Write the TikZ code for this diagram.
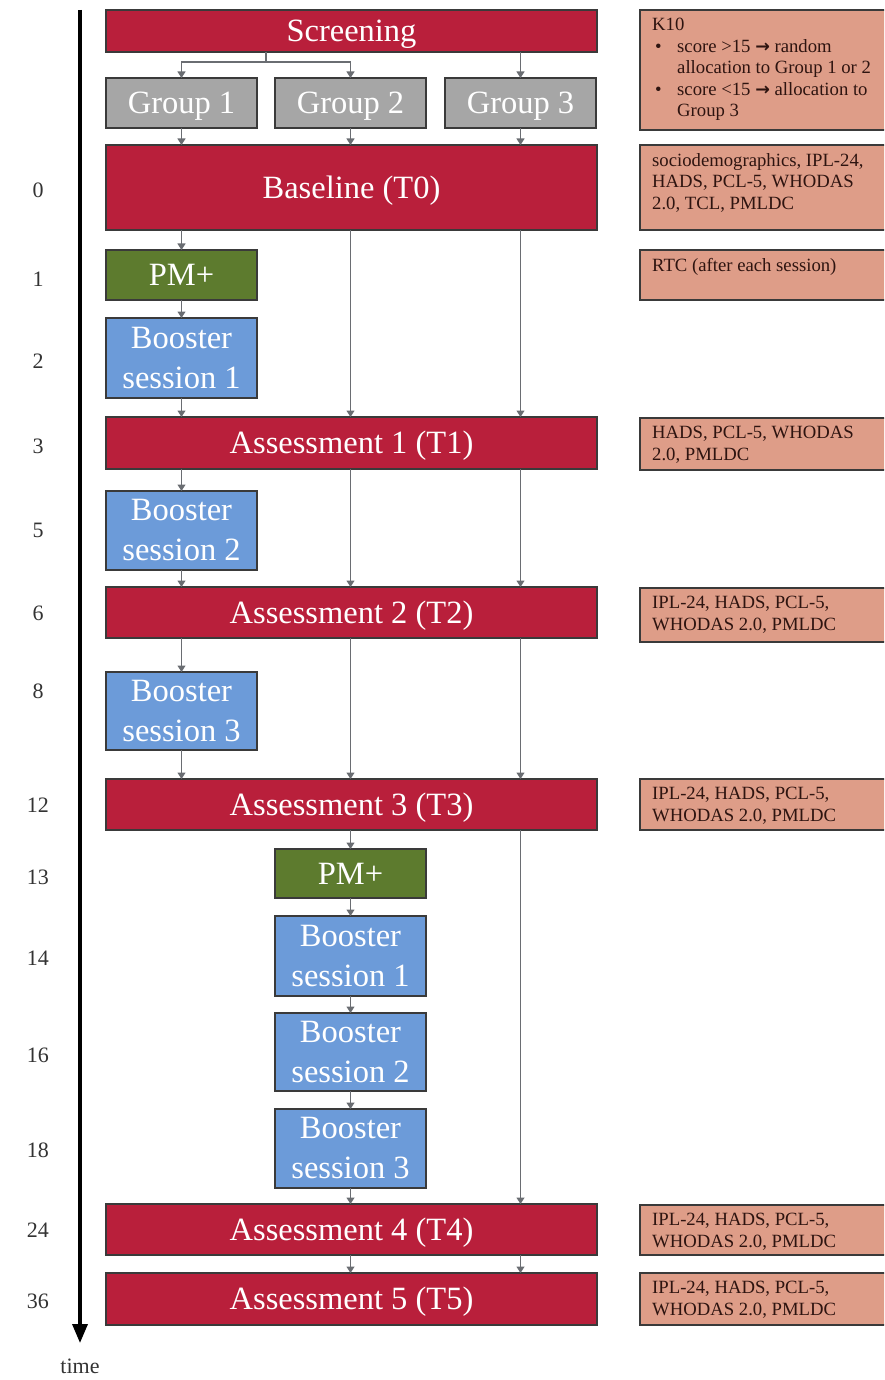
\documentclass[tikz,border=0pt]{standalone}
\usepackage{fontspec}
\setmainfont{Liberation Serif}
\newfontfamily\arrowfont{DejaVu Sans}
\usetikzlibrary{arrows.meta}

\definecolor{blockred}{HTML}{B91F3B}
\definecolor{groupgray}{HTML}{A6A6A6}
\definecolor{pmgreen}{HTML}{5D7B2E}
\definecolor{boostblue}{HTML}{6C9BD9}
\definecolor{notesalmon}{HTML}{DE9D88}
\definecolor{edgedark}{HTML}{3A3A3A}
\definecolor{connector}{HTML}{6A6D72}
\definecolor{notetextcol}{HTML}{2E1410}

\tikzset{
  blockbase/.style={draw=edgedark, line width=1.3pt, inner sep=0pt, outer sep=0pt,
    text=white, align=center, font=\fontsize{32.5}{40}\selectfont},
  oneline/.style={text height=22.5pt, text depth=1pt},
  redblock/.style={blockbase, oneline, fill=blockred},
  grayblock/.style={blockbase, oneline, fill=groupgray},
  greenblock/.style={blockbase, oneline, fill=pmgreen},
  blueblock/.style={blockbase, fill=boostblue},
  notebox/.style={draw=edgedark, line width=1.2pt, fill=notesalmon, inner sep=0pt,
    outer sep=0pt, anchor=north west, minimum width=260pt},
  notetext/.style={anchor=north west, inner sep=0pt, align=left, text=notetextcol,
    font=\fontsize{18.7}{21.5}\selectfont},
  conn/.style={draw=connector, line width=1.1pt},
  flow/.style={conn, -{Triangle[width=8pt,length=6.5pt]}},
  ticklabel/.style={font=\fontsize{22}{24}\selectfont, text=black!80},
  timeaxis/.style={line width=3.5pt, -{Triangle[width=15pt,length=19pt]}},
}

% box from (x1,y1) to (x2,y2), in pixel-like units
\newcommand\block[7]{%
  \node[#2, minimum width={(#5-#3)*1pt}, minimum height={(#6-#4)*1pt}]
    (#1) at ({(#3+#5)/2},{(#4+#6)/2}) {#7};}
% measurement note on the right: name, top, bottom, text
\newcommand\note[4]{%
  \node[notebox, minimum height={(#3-#2)*1pt}] (#1) at (640,#2) {};
  \node[notetext] (#1t) at ([xshift=12pt,yshift=-8pt]#1.north west) {#4};}
\newcommand\arr{{\arrowfont\bfseries\fontsize{17.5}{18}\selectfont →}}

\begin{document}
\begin{tikzpicture}[x=1pt,y=-1pt]
\useasboundingbox (0,0) rectangle (884,1380);
\clip (0,0) rectangle (884,1380);

% time axis
\coordinate (axtop) at (80,10);
\coordinate (axbot) at (80,1343);
\draw[timeaxis] (axtop) -- (axbot);
\node[ticklabel] (timelbl) at (80,1366) {time};

\foreach \lab/\yy [count=\i] in {0/190,1/279,2/361,3/446,5/530,6/613,8/691,12/805,
    13/877,14/958,16/1055,18/1150,24/1230,36/1301}
  \node[ticklabel] (tick\i) at (38,\yy) {\lab};

% main flow blocks
\block{scr}{redblock}{106}{10}{597}{52}{Screening}
\block{g1}{grayblock}{106}{78}{257}{128}{Group 1}
\block{g2}{grayblock}{275}{78}{426}{128}{Group 2}
\block{g3}{grayblock}{445}{78}{596}{128}{Group 3}
\block{base}{redblock}{106}{145}{597}{230}{Baseline (T0)}
\block{pmA}{greenblock}{106}{250}{257}{300}{PM+}
\block{bA1}{blueblock}{106}{318}{257}{398}{Booster\\session 1}
\block{a1}{redblock}{106}{417}{597}{469}{Assessment 1 (T1)}
\block{bA2}{blueblock}{106}{491}{257}{570}{Booster\\session 2}
\block{a2}{redblock}{106}{587}{597}{638}{Assessment 2 (T2)}
\block{bA3}{blueblock}{106}{672}{257}{750}{Booster\\session 3}
\block{a3}{redblock}{106}{779}{597}{830}{Assessment 3 (T3)}
\block{pmB}{greenblock}{275}{849}{426}{898}{PM+}
\block{bB1}{blueblock}{275}{916}{426}{996}{Booster\\session 1}
\block{bB2}{blueblock}{275}{1013}{426}{1091}{Booster\\session 2}
\block{bB3}{blueblock}{275}{1109}{426}{1188}{Booster\\session 3}
\block{a4}{redblock}{106}{1204}{597}{1255}{Assessment 4 (T4)}
\block{a5}{redblock}{106}{1273}{597}{1325}{Assessment 5 (T5)}

% measurement notes
\note{nK}{10}{130}{K10\\
  \hspace*{3pt}\makebox[22pt][l]{•}score >15 \arr{} random\\
  \hspace*{25pt}allocation to Group 1 or 2\\
  \hspace*{3pt}\makebox[22pt][l]{•}score <15 \arr{} allocation to\\
  \hspace*{25pt}Group 3}
\note{nB}{145}{230}{sociodemographics, IPL-24,\\HADS, PCL-5, WHODAS\\2.0, TCL, PMLDC}
\note{nR}{250}{300}{RTC (after each session)}
\note{n1}{418}{470}{HADS, PCL-5, WHODAS\\2.0, PMLDC}
\note{n2}{588}{642}{IPL-24, HADS, PCL-5,\\WHODAS 2.0, PMLDC}
\note{n3}{779}{830}{IPL-24, HADS, PCL-5,\\WHODAS 2.0, PMLDC}
\note{n4}{1205}{1255}{IPL-24, HADS, PCL-5,\\WHODAS 2.0, PMLDC}
\note{n5}{1273}{1325}{IPL-24, HADS, PCL-5,\\WHODAS 2.0, PMLDC}

% allocation after screening
\coordinate (split) at (266,62);
\draw[conn] (scr.south -| split) -- (split);
\draw[flow] (split) -| (g1.north);
\draw[flow] (split) -| (g2.north);
\draw[flow] (scr.south -| g3) -- (g3.north);

% groups into baseline
\foreach \g in {g1,g2,g3}
  \draw[flow] (\g.south) -- (base.north -| \g.south);

% group 1 path
\draw[flow] (base.south -| pmA) -- (pmA.north);
\draw[flow] (pmA.south) -- (bA1.north);
\draw[flow] (bA1.south) -- (a1.north -| bA1);
\draw[flow] (a1.south -| bA2) -- (bA2.north);
\draw[flow] (bA2.south) -- (a2.north -| bA2);
\draw[flow] (a2.south -| bA3) -- (bA3.north);
\draw[flow] (bA3.south) -- (a3.north -| bA3);

% groups 2 and 3 up to T3
\foreach \g in {g2,g3}{
  \draw[flow] (base.south -| \g) -- (a1.north -| \g);
  \draw[flow] (a1.south -| \g) -- (a2.north -| \g);
  \draw[flow] (a2.south -| \g) -- (a3.north -| \g);
}

% group 2 delayed intervention
\draw[flow] (a3.south -| pmB) -- (pmB.north);
\draw[flow] (pmB.south) -- (bB1.north);
\draw[flow] (bB1.south) -- (bB2.north);
\draw[flow] (bB2.south) -- (bB3.north);
\draw[flow] (bB3.south) -- (a4.north -| bB3);

% group 3 to T4, then both to T5
\draw[flow] (a3.south -| g3) -- (a4.north -| g3);
\draw[flow] (a4.south -| bB3) -- (a5.north -| bB3);
\draw[flow] (a4.south -| g3) -- (a5.north -| g3);
\end{tikzpicture}
\end{document}
